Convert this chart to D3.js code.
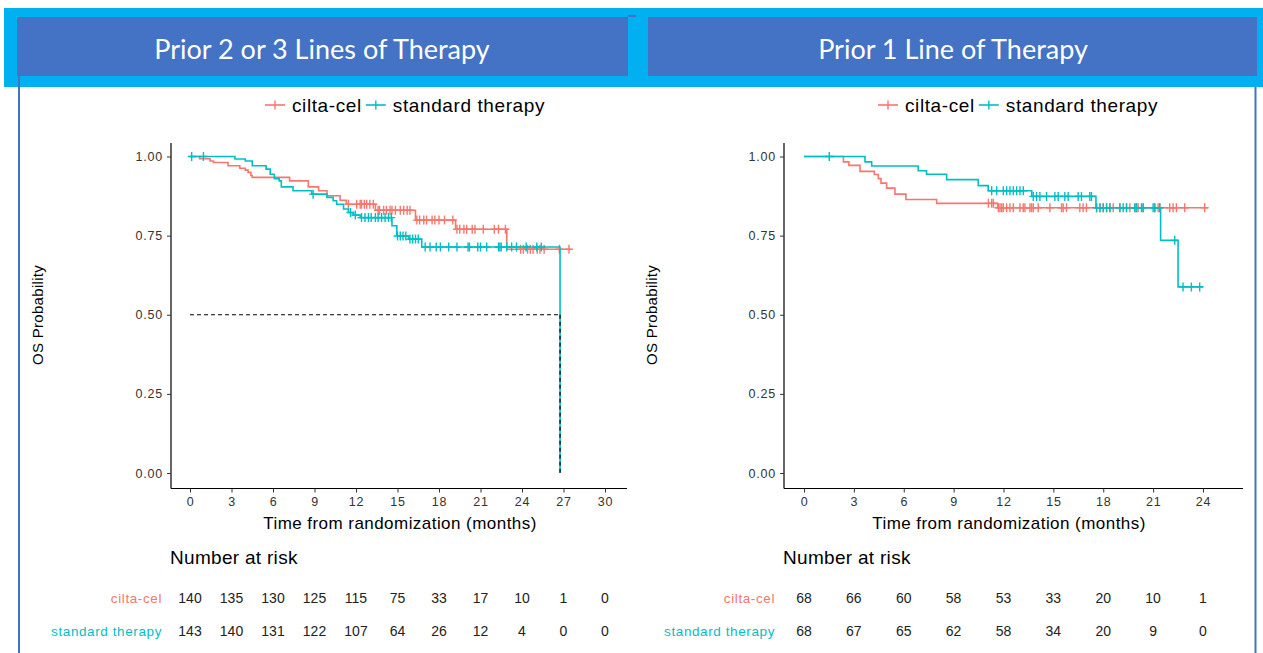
<!DOCTYPE html>
<html>
<head>
<meta charset="utf-8">
<script src="https://cdn.jsdelivr.net/npm/d3@7"></script>
<style>
  html, body { margin: 0; padding: 0; background: #fff; }
  svg { display: block; }
</style>
</head>
<body>
<svg id="chart" width="1263" height="653"></svg>
<script>
// ---- Overall survival, Kaplan–Meier estimates by prior lines of therapy ----
const groups = ["cilta-cel", "standard therapy"];
const groupColors = ["#F8766D", "#00BFC4"];

// Prior 2 or 3 lines: step points [month, survival], last time of follow-up, censoring times
const lines23CiltaSteps = [[0,1],[0.7,0.993],[1.45,0.986],[1.7,0.981],[2.75,0.971],[3.6,0.963],[4.0,0.957],[4.2,0.95],[4.4,0.94],[4.5,0.934],[7.2,0.923],[8.55,0.904],[9.3,0.892],[9.9,0.876],[10.85,0.862],[11.3,0.849],[13.4,0.83],[16.3,0.799],[19.2,0.77],[22.9,0.707]];
const lines23CiltaEnd = 27.5;
const lines23CiltaCensor = [11.45,12.05,12.3,12.4,12.6,12.77,13.0,13.25,13.6,13.7,14.0,14.2,14.46,14.6,14.85,15.2,15.45,15.7,15.9,16.4,16.6,16.9,17.1,17.5,17.7,18.0,18.4,19.0,19.3,19.5,19.8,20.0,20.4,20.6,21.2,22.0,22.3,22.8,23.9,24.1,24.4,24.6,24.8,25.1,25.3,25.6,26.7,27.4];

const lines23StdSteps = [[0,1],[3.25,0.992],[4.0,0.986],[4.5,0.971],[5.5,0.96],[5.8,0.944],[6.1,0.93],[6.45,0.923],[6.6,0.904],[7.45,0.892],[8.8,0.881],[9.9,0.871],[10.35,0.86],[10.6,0.849],[11.1,0.834],[11.45,0.823],[11.8,0.815],[12.3,0.807],[14.6,0.781],[14.95,0.749],[15.8,0.739],[16.75,0.714],[26.75,0]];
const lines23StdEnd = 26.75;
const lines23StdCensor = [0.12,0.97,8.9,11.6,11.95,12.4,12.65,12.9,13.1,13.4,13.6,13.85,14.1,14.35,14.55,15.0,15.2,15.4,15.6,15.9,16.1,16.3,16.5,17.0,17.35,17.8,18.1,18.7,19.3,20.1,20.2,20.8,21.0,21.45,22.3,22.4,22.5,22.9,23.25,23.6,24.3,25.07,25.4];
const lines23Median = 26.75;

const lines23Ticks = [0,3,6,9,12,15,18,21,24,27,30];
const lines23CiltaRisk = [140,135,130,125,115,75,33,17,10,1,0];
const lines23StdRisk = [143,140,131,122,107,64,26,12,4,0,0];

// Prior 1 line
const line1CiltaSteps = [[0,1],[2.37,0.983],[2.7,0.972],[3.37,0.953],[4.23,0.943],[4.47,0.93],[4.63,0.916],[4.97,0.9],[5.47,0.881],[6.13,0.864],[7.98,0.852],[11.65,0.838]];
const line1CiltaEnd = 24.3;
const line1CiltaCensor = [11.09,11.29,11.39,11.69,11.79,11.89,11.99,12.19,12.39,12.59,12.99,13.19,13.29,13.59,13.69,13.79,14.09,14.79,15.49,15.59,15.79,16.59,16.79,16.99,17.6,17.8,18.0,18.2,18.4,18.6,19.0,19.4,19.6,19.9,20.0,20.1,20.4,21.1,21.3,21.4,22.0,22.2,22.4,22.9,24.1];

const line1StdSteps = [[0,1],[3.67,0.983],[4.07,0.97],[6.87,0.955],[7.37,0.944],[8.58,0.927],[10.48,0.908],[11.08,0.892],[13.7,0.874],[17.56,0.838],[21.45,0.735],[22.5,0.588]];
const line1StdEnd = 24.0;
const line1StdCensor = [1.52,11.29,11.59,11.99,12.19,12.39,12.59,12.79,12.99,13.19,13.79,13.99,14.19,14.59,15.09,15.29,15.69,15.89,16.49,16.69,17.19,17.29,17.6,17.8,18.0,18.2,18.4,19.0,19.2,19.4,19.9,20.0,20.3,20.4,21.0,21.1,21.4,22.3,22.8,23.3,23.8];

const line1Ticks = [0,3,6,9,12,15,18,21,24];
const line1CiltaRisk = [68,66,60,58,53,33,20,10,1];
const line1StdRisk = [68,67,65,62,58,34,20,9,0];

const yTicks = [0, 0.25, 0.5, 0.75, 1];
const panelTitles = ["Prior 2 or 3 Lines of Therapy", "Prior 1 Line of Therapy"];

const svg = d3.select("#chart");

// ---- slide frame and header bars ----
svg.append("rect").attr("x", 4).attr("y", 8).attr("width", 1259).attr("height", 79).attr("fill", "#00B0F0");
svg.append("rect").attr("x", 17).attr("y", 17).attr("width", 611).attr("height", 59).attr("fill", "#4472C4");
svg.append("rect").attr("x", 628).attr("y", 15).attr("width", 8).attr("height", 2).attr("fill", "#4472C4");
svg.append("rect").attr("x", 648).attr("y", 17).attr("width", 609).attr("height", 59).attr("fill", "#4472C4");
svg.append("line").attr("x1", 19).attr("x2", 19).attr("y1", 76).attr("y2", 653).attr("stroke", "#4472C4").attr("stroke-width", 2);
svg.append("line").attr("x1", 1255.5).attr("x2", 1255.5).attr("y1", 87).attr("y2", 653).attr("stroke", "#4472C4").attr("stroke-width", 2);

const titleCenters = [322, 953];
panelTitles.forEach((t, i) => {
  svg.append("text").attr("x", titleCenters[i]).attr("y", 59)
    .attr("text-anchor", "middle").attr("fill", "#fff")
    .attr("font-family", "Lato, 'Open Sans', sans-serif").attr("font-size", 27)
    .text(t);
});

// survival value at time t from a step list
function survAt(steps, t) {
  let s = 1;
  for (const [ti, si] of steps) { if (ti <= t) s = si; else break; }
  return s;
}

function drawPanel(p) {
  const g = svg.append("g");
  const x = d3.scaleLinear().domain([0, p.ticks[p.ticks.length - 1]]).range([p.x0, p.x1]);
  const y = d3.scaleLinear().domain([0, 1]).range([473, 156.5]);
  const font = "'Liberation Sans', Arial, sans-serif";

  // axes lines
  g.append("line").attr("x1", p.axL).attr("x2", p.axL).attr("y1", 143).attr("y2", 488.5).attr("stroke", "#000").attr("stroke-width", 1.2);
  g.append("line").attr("x1", p.axL).attr("x2", p.axR).attr("y1", 488.5).attr("y2", 488.5).attr("stroke", "#000").attr("stroke-width", 1.2);

  const yAxis = d3.axisLeft(y).tickValues(yTicks).tickFormat(d3.format(".2f")).tickSize(4).tickPadding(4);
  const ya = g.append("g").attr("transform", `translate(${p.axL},0)`).call(yAxis);
  const xAxis = d3.axisBottom(x).tickValues(p.ticks).tickSize(4).tickPadding(5);
  const xa = g.append("g").attr("transform", `translate(0,488.5)`).call(xAxis);
  [ya, xa].forEach(a => {
    a.select(".domain").remove();
    a.selectAll(".tick line").attr("stroke", "#333");
    a.selectAll(".tick text").attr("fill", "#333").attr("font-family", font).attr("font-size", 12.5)
      .attr("letter-spacing", 0.8);
  });

  // axis titles
  g.append("text").attr("transform", `translate(${p.yTitleX},315) rotate(-90)`)
    .attr("text-anchor", "middle").attr("font-family", font).attr("font-size", 15).attr("fill", "#000")
    .attr("letter-spacing", 0.3)
    .text("OS Probability");
  g.append("text").attr("x", p.xTitleX).attr("y", 529)
    .attr("text-anchor", "middle").attr("font-family", font).attr("font-size", 17).attr("fill", "#000")
    .attr("letter-spacing", 0.45)
    .text("Time from randomization (months)");

  // median reference line (horizontal part)
  if (p.median != null) {
    g.append("line").attr("x1", x(0)).attr("x2", x(p.median)).attr("y1", y(0.5)).attr("y2", y(0.5))
      .attr("stroke", "#000").attr("stroke-width", 1.2).attr("stroke-dasharray", "4,3");
  }

  const line = d3.line().x(d => x(d[0])).y(d => y(d[1])).curve(d3.curveStepAfter);
  p.series.forEach((s, i) => {
    const pts = s.steps.slice();
    const last = pts[pts.length - 1];
    if (last[0] < s.end) pts.push([s.end, last[1]]);
    g.append("path").datum(pts).attr("d", line)
      .attr("fill", "none").attr("stroke", groupColors[i]).attr("stroke-width", 1.6);
    const marks = g.append("g").attr("stroke", groupColors[i]).attr("stroke-width", 1.4);
    s.censor.forEach(t => {
      const cx = x(t), cy = y(survAt(s.steps, t));
      marks.append("path").attr("d", `M${cx - 4},${cy}H${cx + 4}M${cx},${cy - 4.5}V${cy + 4.5}`);
    });
  });
  // median drop line drawn over the curve
  if (p.median != null) {
    g.append("line").attr("x1", x(p.median)).attr("x2", x(p.median)).attr("y1", y(0.5)).attr("y2", y(0))
      .attr("stroke", "#000").attr("stroke-width", 1.2).attr("stroke-dasharray", "4,3");
  }

  // legend
  const lg = g.append("g").attr("font-family", font).attr("font-size", 19).attr("letter-spacing", 0.6);
  let lx = p.legendX;
  groups.forEach((name, i) => {
    lg.append("line").attr("x1", lx).attr("x2", lx + 20).attr("y1", 105).attr("y2", 105)
      .attr("stroke", groupColors[i]).attr("stroke-width", 1.6);
    lg.append("line").attr("x1", lx + 10).attr("x2", lx + 10).attr("y1", 100.5).attr("y2", 109.5)
      .attr("stroke", groupColors[i]).attr("stroke-width", 1.4);
    const tx = lg.append("text").attr("x", lx + 27).attr("y", 112).attr("fill", "#000").text(name);
    lx += 27 + tx.node().getComputedTextLength() + 4;
  });

  // number at risk table
  g.append("text").attr("x", p.axL - 1).attr("y", 564).attr("font-family", font).attr("font-size", 19).attr("fill", "#000")
    .attr("letter-spacing", 0.3)
    .text("Number at risk");
  [p.ciltaRisk, p.stdRisk].forEach((vals, i) => {
    const ry = [603, 636][i];
    g.append("text").attr("x", p.axL - 9).attr("y", ry).attr("text-anchor", "end")
      .attr("font-family", font).attr("font-size", 13.5).attr("fill", groupColors[i])
      .attr("letter-spacing", 0.6).text(groups[i]);
    g.append("g").selectAll("text").data(vals).join("text")
      .attr("x", (d, j) => x(p.ticks[j])).attr("y", ry).attr("text-anchor", "middle")
      .attr("font-family", font).attr("font-size", 14).attr("fill", "#222").text(d => d);
  });
}

drawPanel({
  ticks: lines23Ticks, x0: 190, x1: 605, axL: 171, axR: 627, yTitleX: 43, xTitleX: 400, legendX: 265,
  median: lines23Median,
  series: [
    { steps: lines23CiltaSteps, end: lines23CiltaEnd, censor: lines23CiltaCensor },
    { steps: lines23StdSteps, end: lines23StdEnd, censor: lines23StdCensor }
  ],
  ciltaRisk: lines23CiltaRisk, stdRisk: lines23StdRisk
});

drawPanel({
  ticks: line1Ticks, x0: 804, x1: 1203, axL: 784, axR: 1243, yTitleX: 657, xTitleX: 1009, legendX: 878,
  median: null,
  series: [
    { steps: line1CiltaSteps, end: line1CiltaEnd, censor: line1CiltaCensor },
    { steps: line1StdSteps, end: line1StdEnd, censor: line1StdCensor }
  ],
  ciltaRisk: line1CiltaRisk, stdRisk: line1StdRisk
});
</script>
</body>
</html>
